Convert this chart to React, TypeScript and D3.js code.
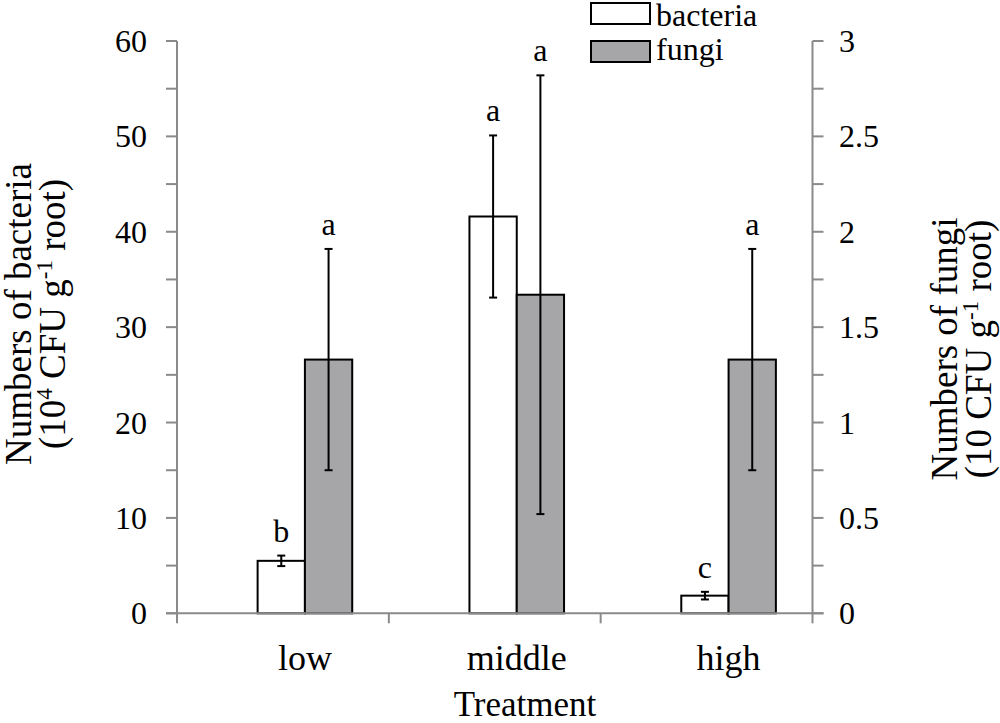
import React from "react";
import * as d3 from "d3";

const categories = ["low", "middle", "high"];
const bacteria = [5.5, 41.6, 1.85];
const bacteriaErr = [0.55, 8.5, 0.4];
const fungi = [1.33, 1.67, 1.33];
const fungiErr = [0.58, 1.15, 0.58];
const bacteriaLetters = ["b", "a", "c"];
const fungiLetters = ["a", "a", "a"];
const leftTicks = d3.range(0, 61, 5);
const rightTicks = d3.range(0, 3.01, 0.25);

const FONT = "'Liberation Serif', 'Times New Roman', serif";
const AXIS = "#8a8a8a";
const FUNGI_FILL = "#a6a6a8";

export default function App() {
  const left = 177, right = 812.5, top = 41, bottom = 613.3;
  const x = d3.scaleBand<string>().domain(categories).range([left, right]).padding(0);
  const yL = d3.scaleLinear().domain([0, 60]).range([bottom, top]);
  const yR = d3.scaleLinear().domain([0, 3]).range([bottom, top]);
  const bw = 47.3;
  const offset = 22;
  const center = (c: string) => (x(c) as number) + x.bandwidth() / 2 + offset;
  const cap = 4;
  const gap = 14;
  const boundaries = [...categories.map((c) => x(c) as number), right];

  return (
    <svg width={1000} height={723} style={{ position: "absolute", left: 0, top: 0, background: "#fff" }} fontFamily={FONT}>
      {/* bars */}
      {categories.map((c, i) => {
        const cx = center(c);
        const bx = cx - bw;
        const by = yL(bacteria[i]);
        const fy = yR(fungi[i]);
        const bTop = yL(bacteria[i] + bacteriaErr[i]);
        const bBot = yL(bacteria[i] - bacteriaErr[i]);
        const fTop = yR(fungi[i] + fungiErr[i]);
        const fBot = yR(fungi[i] - fungiErr[i]);
        const bmx = cx - bw / 2;
        const fmx = cx + bw / 2;
        return (
          <g key={c}>
            <rect x={bx} y={by} width={bw} height={bottom - by} fill="#fff" stroke="#000" strokeWidth={2} />
            <rect x={cx} y={fy} width={bw} height={bottom - fy} fill={FUNGI_FILL} stroke="#000" strokeWidth={2} />
            <g stroke="#000" strokeWidth={2}>
              <line x1={bmx} x2={bmx} y1={bTop} y2={bBot} />
              <line x1={bmx - cap} x2={bmx + cap} y1={bTop} y2={bTop} />
              <line x1={bmx - cap} x2={bmx + cap} y1={bBot} y2={bBot} />
              <line x1={fmx} x2={fmx} y1={fTop} y2={fBot} />
              <line x1={fmx - cap} x2={fmx + cap} y1={fTop} y2={fTop} />
              <line x1={fmx - cap} x2={fmx + cap} y1={fBot} y2={fBot} />
            </g>
            <text x={bmx} y={bTop - gap} textAnchor="middle" fontSize={32}>{bacteriaLetters[i]}</text>
            <text x={fmx} y={fTop - gap} textAnchor="middle" fontSize={32}>{fungiLetters[i]}</text>
            <text x={cx} y={670} textAnchor="middle" fontSize={36}>{c}</text>
          </g>
        );
      })}

      {/* axes */}
      <g stroke={AXIS} strokeWidth={2}>
        <line x1={left} x2={left} y1={top} y2={bottom} />
        <line x1={right} x2={right} y1={top} y2={bottom} />
        <line x1={left - 11} x2={right + 11} y1={bottom} y2={bottom} />
        {leftTicks.map((t) => (
          <line key={"l" + t} x1={left - 11} x2={left} y1={yL(t)} y2={yL(t)} />
        ))}
        {rightTicks.map((t) => (
          <line key={"r" + t} x1={right} x2={right + 11} y1={yR(t)} y2={yR(t)} />
        ))}
        {boundaries.map((b, i) => (
          <line key={"x" + i} x1={b} x2={b} y1={bottom} y2={bottom + 10} />
        ))}
      </g>
      {leftTicks.filter((t) => t % 10 === 0).map((t) => (
        <text key={"lt" + t} x={147} y={yL(t) + 11} textAnchor="end" fontSize={32}>{t}</text>
      ))}
      {rightTicks.filter((t) => Math.abs((t * 2) % 1) < 1e-9).map((t) => (
        <text key={"rt" + t} x={839} y={yR(t) + 11} textAnchor="start" fontSize={32}>{d3.format("~g")(t)}</text>
      ))}

      {/* axis titles */}
      <text x={525} y={716} textAnchor="middle" fontSize={35}>Treatment</text>
      <g transform="translate(31, 314) rotate(-90)">
        <text x={0} y={0} textAnchor="middle" fontSize={37}>Numbers of bacteria</text>
        <text x={0} y={34} textAnchor="middle" fontSize={37}>
          (10<tspan dy={-13} fontSize={23}>4</tspan><tspan dy={13}> CFU g</tspan><tspan dy={-13} fontSize={23}>-1</tspan><tspan dy={13}> root)</tspan>
        </text>
      </g>
      <g transform="translate(957, 349) rotate(-90)">
        <text x={0} y={0} textAnchor="middle" fontSize={37}>Numbers of fungi</text>
        <text x={0} y={34} textAnchor="middle" fontSize={37}>
          (10 CFU g<tspan dy={-13} fontSize={23}>-1</tspan><tspan dy={13}> root)</tspan>
        </text>
      </g>

      {/* legend */}
      <rect x={591} y={3} width={59} height={21} fill="#fff" stroke="#000" strokeWidth={2} />
      <rect x={591} y={41} width={59} height={21} fill={FUNGI_FILL} stroke="#000" strokeWidth={2} />
      <text x={656} y={26} fontSize={32}>bacteria</text>
      <text x={656} y={60} fontSize={32}>fungi</text>
    </svg>
  );
}
